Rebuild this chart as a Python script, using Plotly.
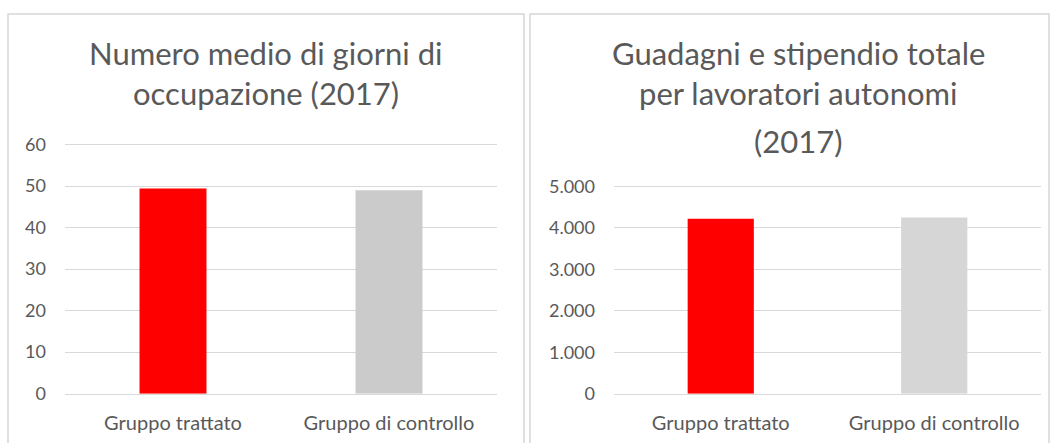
import plotly.graph_objects as go

# Categories and values
categories = ["Gruppo trattato", "Gruppo di controllo"]
giorni_occupazione = [49.4, 49.0]
guadagni_autonomi = [4220, 4250]

bar_colors_left = ["#ff0000", "#cbcbcb"]
bar_colors_right = ["#ff0000", "#d6d6d6"]

title_left = ["Numero medio di giorni di", "occupazione (2017)"]
title_right = ["Guadagni e stipendio totale", "per lavoratori autonomi", "(2017)"]

W, H = 1055, 443
FONT = "Lato"
TEXT = "#595959"
GRID = "#d9d9d9"

fig = go.Figure()
fig.add_trace(go.Bar(x=categories, y=giorni_occupazione, marker_color=bar_colors_left,
                     marker_line_width=0, xaxis="x", yaxis="y", showlegend=False))
fig.add_trace(go.Bar(x=categories, y=guadagni_autonomi, marker_color=bar_colors_right,
                     marker_line_width=0, xaxis="x2", yaxis="y2", showlegend=False))


def px_x(v):
    return v / W


def px_y(v):
    return 1 - v / H


axis_common = dict(showline=False, zeroline=False, ticks="", automargin=False,
                   tickfont=dict(family=FONT, size=18, color=TEXT))
cat_font = dict(family=FONT, size=20, color=TEXT)

# Pixel scale of each value axis: 0 at y=393.7, top tick at the given pixel row
left_px_per_unit = (393.7 - 144.5) / 60
right_px_per_unit = (393.7 - 186.5) / 5000
left_top, right_top = 61, 5100

fig.update_layout(
    width=W, height=H,
    margin=dict(l=0, r=0, t=0, b=0, pad=0, autoexpand=False),
    paper_bgcolor="white", plot_bgcolor="white",
    separators=",.",
    bargap=0.69,
    font=dict(family=FONT, color=TEXT),
    xaxis=dict(domain=[px_x(65), px_x(497)], anchor="y", showgrid=False,
               ticklabelstandoff=11, **{**axis_common, "tickfont": cat_font}),
    yaxis=dict(domain=[px_y(393.7), px_y(393.7 - left_top * left_px_per_unit)],
               anchor="x", range=[0, left_top],
               tickvals=[0, 10, 20, 30, 40, 50, 60], showgrid=True, gridcolor=GRID,
               gridwidth=1.3, ticklabelstandoff=18, **axis_common),
    xaxis2=dict(domain=[px_x(614), px_x(1041)], anchor="y2", showgrid=False,
                ticklabelstandoff=11, **{**axis_common, "tickfont": cat_font}),
    yaxis2=dict(domain=[px_y(393.7), px_y(393.7 - right_top * right_px_per_unit)],
                anchor="x2", range=[0, right_top],
                tickvals=[0, 1000, 2000, 3000, 4000, 5000], tickformat=",d",
                showgrid=True, gridcolor=GRID, gridwidth=1.3, ticklabelstandoff=18,
                **axis_common),
)

# Baseline of each category axis drawn as a gridline-coloured rule
fig.update_xaxes(showline=True, linecolor=GRID, linewidth=1.3)

# Chart frames
for x0, x1 in [(8, 524), (530, 1049)]:
    fig.add_shape(type="rect", xref="paper", yref="paper",
                  x0=px_x(x0), x1=px_x(x1), y0=px_y(460), y1=px_y(14),
                  line=dict(color="#d6d6d6", width=1.5), fillcolor="rgba(0,0,0,0)")

# Titles, one annotation per line
title_rows = [53, 93, 141]
for lines, cx in [(title_left, 266), (title_right, 798)]:
    for i, line in enumerate(lines):
        fig.add_annotation(text=line, xref="paper", yref="paper",
                           x=px_x(cx), y=px_y(title_rows[i]), xanchor="center",
                           yanchor="middle", showarrow=False,
                           font=dict(family=FONT, size=31, color=TEXT))

fig.write_html("out.html")
